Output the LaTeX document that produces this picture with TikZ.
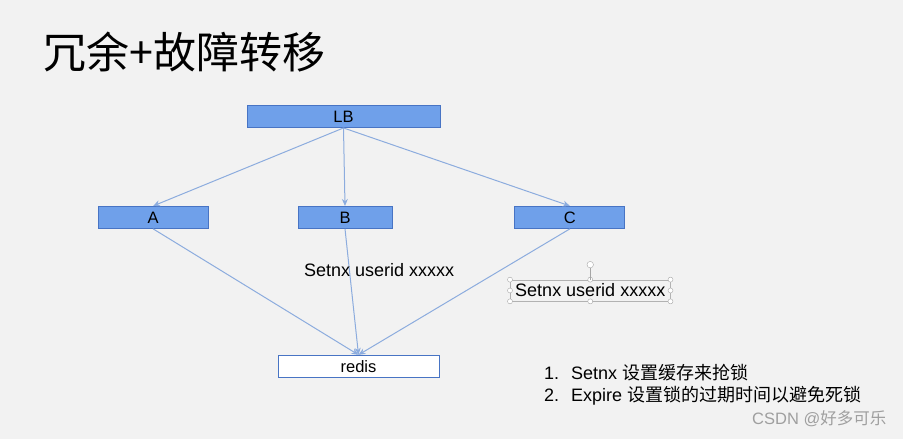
\documentclass[tikz,border=0pt]{standalone}
\usepackage{fontspec}
\setmainfont{Liberation Sans}
\newfontfamily\cjk{Noto Sans CJK SC}
\usetikzlibrary{positioning,arrows.meta,calc}

\definecolor{boxblue}{RGB}{111,160,234}
\definecolor{boxedge}{RGB}{72,116,196}
\definecolor{linkblue}{RGB}{140,172,222}
\definecolor{slidebg}{RGB}{242,242,242}

\begin{document}
\begin{tikzpicture}[x=1pt,y=-1pt,
    server/.style={draw=boxedge, fill=boxblue, line width=0.9pt, inner sep=0pt,
        minimum height=22pt, font=\fontsize{16.5}{18}\selectfont},
    store/.style={server, fill=white},
    link/.style={draw=linkblue, line width=1pt, -{Stealth[length=7pt,width=6pt]}},
    note/.style={inner sep=0pt, font=\fontsize{18}{20}\selectfont},
    handle/.style={circle, draw=gray!70, fill=white, inner sep=0pt, minimum size=5pt}]
    % Background
    \fill[slidebg] (0,0) rectangle (903,439);
    \useasboundingbox (0,0) rectangle (903,439);

    % Title
    \node[anchor=west, inner sep=0pt, font=\cjk\fontsize{43}{46}\selectfont] (title) at (43,52) {冗余+故障转移};

    % Define nodes
    \node[server, minimum width=193pt]              (LB)    at (343.5,116.5) {LB};
    \node[server, minimum width=94pt, below = 78pt of LB, xshift=1.5pt] (B) {B};
    \node[server, minimum width=110pt, left = 89pt of B]  (A) {A};
    \node[server, minimum width=110pt, right = 122pt of B] (C) {C};
    \node[store, minimum width=161pt, below = 126pt of B, xshift=13.5pt] (redis) {redis};

    % Connect nodes
    \draw[link] (LB.south) -- (A.north);
    \draw[link] (LB.south) -- (B.north);
    \draw[link] (LB.south) -- (C.north);
    \draw[link] (A.south) -- (redis.north);
    \draw[link] (B.south) -- (redis.north);
    \draw[link] (C.south) -- (redis.north);

    % Commands
    \node[note, anchor=west] (cmdB) at (304,270) {Setnx userid xxxxx};
    \node[note, anchor=west, draw=gray!60, line width=0.5pt, inner xsep=3pt, inner ysep=4pt,
        minimum width=160pt] (cmdC) at (510,290.5) {Setnx userid xxxxx};
    \foreach \a in {north west,north,north east,east,south east,south,south west,west}
        \node[handle] at (cmdC.\a) {};
    \node[handle, minimum size=6.5pt] (rot) at ($(cmdC.north)+(0,-15)$) {};
    \draw[gray!70, line width=0.5pt] (rot) -- (cmdC.north);

    % Steps
    \node[note, anchor=west] (step1) at (544,373) {\makebox[27pt][l]{1.}Setnx {\cjk 设置缓存来抢锁}};
    \node[note, anchor=west] (step2) at (544,396) {\makebox[27pt][l]{2.}Expire {\cjk 设置锁的过期时间以避免死锁}};

    % Watermark
    \node[anchor=west, inner sep=0pt, text=gray!75, font=\fontsize{16.5}{18}\selectfont] (mark) at (752,419) {CSDN @{\cjk 好多可乐}};
\end{tikzpicture}
\end{document}
